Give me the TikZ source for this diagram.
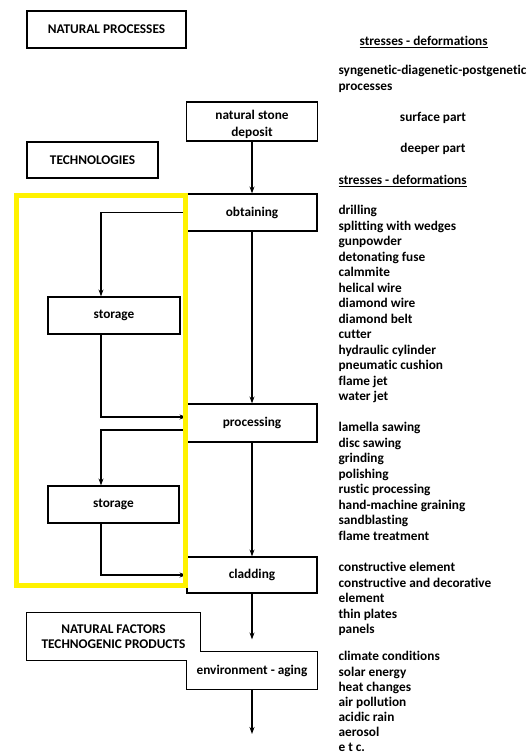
\documentclass[tikz,border=0pt]{standalone}
\usepackage{fontspec}
\setmainfont{Carlito}[Ligatures=CommonOff]
\usetikzlibrary{arrows.meta}

\begin{document}
\begin{tikzpicture}[x=1pt,y=-1pt,line width=1.2pt,
    >={Stealth[length=7pt,width=5pt]},
    every node/.style={font=\bfseries\fontsize{13.3}{15.5}\selectfont},
    box/.style={draw,fill=white,minimum width=130pt,minimum height=37pt,inner sep=2pt,align=center},
    note/.style={anchor=north west,inner sep=0pt,align=left}]
    \useasboundingbox (0,0) rectangle (529,756);
    % left column
    \node[box,minimum width=159pt] (natproc) at (106.5,29.5) {NATURAL PROCESSES};
    \node[box,minimum width=131pt,minimum height=36pt] (tech) at (92.5,160) {TECHNOLOGIES};
    \node[box,minimum width=131pt] (deposit) at (252,121.5) {\rule{0pt}{16pt}natural stone\\[1.5pt]deposit};
    \node[box] (obtain) at (252,212.5) {obtaining};
    \node[box,minimum width=132pt] (store1) at (114,315.5) {storage};
    \node[box,minimum height=38pt] (process) at (252,423) {processing};
    \node[box,minimum width=131pt] (store2) at (113.5,504.5) {storage};
    \node[box,minimum height=36pt] (cladding) at (252,575) {cladding};
    \node[box,draw=none,minimum width=173pt,minimum height=47pt] (natfact) at (113.5,636.5) {NATURAL FACTORS\\TECHNOGENIC PRODUCTS};
    \node[box,draw=none] (env) at (252,670.5) {environment - aging};
    \draw (natfact.north west) -- (natfact.north east) -- (natfact.east |- env.north)
        -- (env.north east) -- (env.south east) -- (env.south west)
        -- (env.west |- natfact.south) -- (natfact.south west) -- cycle;
    \coordinate (out) at (252,734);
    % main flow
    \draw[->] (deposit) -- (obtain);
    \draw[->] (obtain) -- (process);
    \draw[->] (process) -- (cladding);
    \draw[->,shorten >=12pt] (cladding) -- (env.north);
    \draw[->] (env) -- (out);
    % storage loops
    \draw[->] (obtain.west) -| ([xshift=-13pt]store1.north);
    \draw[->] ([xshift=-13pt]store1.south) |- ([yshift=6pt]process.west);
    \draw[->] ([yshift=-7pt]process.west) -| ([xshift=-12.5pt]store2.north);
    \draw[->] ([xshift=-12.5pt]store2.south) |- (cladding.west);
    \draw[yellow,line width=5pt] (16,195) rectangle (185,585);
    % right column
    \node[anchor=west,inner sep=0pt] (stress1) at (359,42) {\underline{stresses - deformations}};
    \node[note] (genesis) at (338,65) {syngenetic-diagenetic-postgenetic\\processes};
    \node[inner sep=0pt] (surface) at (433,118) {surface part};
    \node[inner sep=0pt] (deeper) at (433,149) {deeper part};
    \node[anchor=west,inner sep=0pt] (stress2) at (338,181) {\underline{stresses - deformations}};
    \node[note] (tools) at (338,205) {drilling\\splitting with wedges\\gunpowder\\detonating fuse\\calmmite\\helical wire\\diamond wire\\diamond belt\\cutter\\hydraulic cylinder\\pneumatic cushion\\flame jet\\water jet};
    \node[note] (methods) at (338,422) {lamella sawing\\disc sawing\\grinding\\polishing\\rustic processing\\hand-machine graining\\sandblasting\\flame treatment};
    \node[note] (uses) at (338,562) {constructive element\\constructive and decorative\\element\\thin plates\\panels};
    \node[note,font=\bfseries\fontsize{13.3}{15.1}\selectfont] (factors) at (338,651) {climate conditions\\solar energy\\heat changes\\air pollution\\acidic rain\\aerosol\\e t c.};
\end{tikzpicture}
\end{document}
